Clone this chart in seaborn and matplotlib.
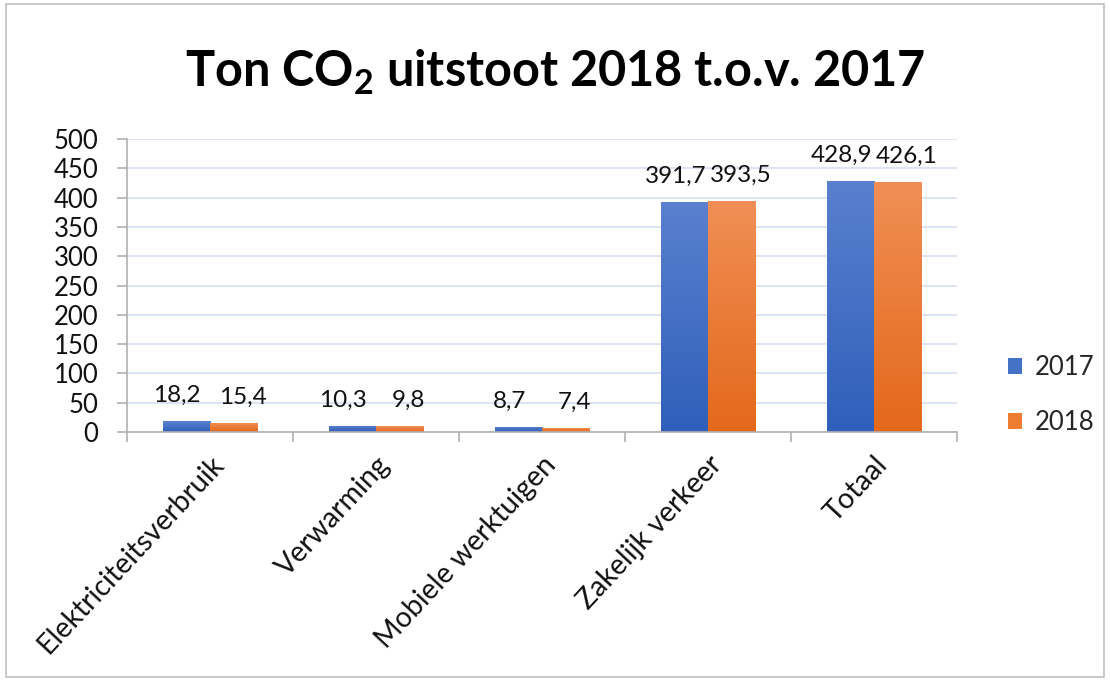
import numpy as np
import pandas as pd
import matplotlib
matplotlib.use("Agg")
import matplotlib.pyplot as plt
import seaborn as sns
from matplotlib.patches import Patch, Rectangle
from matplotlib.colors import LinearSegmentedColormap

categories = ["Elektriciteitsverbruik", "Verwarming", "Mobiele werktuigen", "Zakelijk verkeer", "Totaal"]
years = ["2017", "2018"]
values_2017 = [18.2, 10.3, 8.7, 391.7, 428.9]
values_2018 = [15.4, 9.8, 7.4, 393.5, 426.1]
y_ticks = [0, 50, 100, 150, 200, 250, 300, 350, 400, 450, 500]
title = r"Ton CO$_{\mathbf{2}}$ uitstoot 2018 t.o.v. 2017"

sns.set_theme(style="white")
plt.rcParams["font.family"] = ["Lato", "DejaVu Sans"]
plt.rcParams["mathtext.fontset"] = "custom"
plt.rcParams["mathtext.bf"] = "Lato:bold"
plt.rcParams["mathtext.rm"] = "Lato"

df = pd.DataFrame({
    "cat": categories * 2,
    "val": values_2017 + values_2018,
    "year": [years[0]] * len(categories) + [years[1]] * len(categories),
})

blue = "#4472c4"
orange = "#ed7d31"
blue_grad = LinearSegmentedColormap.from_list("b", ["#2f5fba", "#5a80cf"])
orange_grad = LinearSegmentedColormap.from_list("o", ["#e4681b", "#f08f55"])

fig = plt.figure(figsize=(11.1, 6.8), dpi=100)
ax = fig.add_axes([127/1110, 1-432/680, (957-127)/1110, (432-139)/680])

sns.barplot(data=df, x="cat", y="val", hue="year", palette=[blue, orange],
            width=0.57, gap=0, ax=ax, legend=False, zorder=3, linewidth=0)

ax.set_ylim(0, 500)
ax.set_xlim(-0.5, len(categories) - 0.5)
ax.set_yticks(y_ticks)
ax.set_yticklabels([str(t) for t in y_ticks], fontsize=18.5, color="#111111")
ax.set_xlabel("")
ax.set_ylabel("")

# gradients
grad = np.linspace(0, 1, 256).reshape(-1, 1)
for cont, cmap in zip(ax.containers, [blue_grad, orange_grad]):
    for p in cont.patches:
        x0, y0 = p.get_x(), p.get_y()
        w, h = p.get_width(), p.get_height()
        im = ax.imshow(grad, cmap=cmap, origin="lower", aspect="auto",
                       extent=[x0, x0 + w, y0, y0 + h], zorder=3.5)
        im.set_clip_path(p)
ax.set_ylim(0, 500)
ax.set_xlim(-0.5, len(categories) - 0.5)

# data labels (nudged outward horizontally, like the reference)
for cont, vals, dx in zip(ax.containers, [values_2017, values_2018], [-6.5, 6.5]):
    for p, v in zip(cont.patches, vals):
        ax.annotate(f"{v:.1f}".replace(".", ","),
                    xy=(p.get_x() + p.get_width() / 2, p.get_height()),
                    xytext=(dx, 11), textcoords="offset points",
                    ha="center", va="bottom", fontsize=17.5, color="#111111",
                    zorder=5)

# grid and axes
ax.yaxis.grid(True, color="#d5def0", linewidth=1.2, zorder=0)
ax.set_axisbelow(True)
for s in ["top", "right"]:
    ax.spines[s].set_visible(False)
for s in ["left", "bottom"]:
    ax.spines[s].set_color("#b0b0b0")
    ax.spines[s].set_linewidth(1.2)
    ax.spines[s].set_zorder(4)
ax.tick_params(axis="y", which="major", left=True, length=7, width=1.2,
               color="#b0b0b0", pad=13.5)

ax.set_xticks(range(len(categories)))
ax.set_xticklabels(categories, rotation=47, ha="right", rotation_mode="anchor",
                   fontsize=20.5, color="#111111")
ax.tick_params(axis="x", which="major", length=0, pad=14)
ax.set_xticks(np.arange(-0.5, len(categories), 1.0), minor=True)
ax.tick_params(axis="x", which="minor", bottom=True, length=7, width=1.2, color="#b0b0b0")

# legend
handles = [Patch(facecolor=blue, edgecolor="none"), Patch(facecolor=orange, edgecolor="none")]
fig.legend(handles, years, loc="center left", bbox_to_anchor=(0.887, 0.419),
           frameon=False, fontsize=18.5, handlelength=0.55, handleheight=0.55,
           handletextpad=0.5, labelspacing=1.15)

fig.text(0.5, 1 - 72/680, title, ha="center", va="center", fontsize=35,
         fontweight="bold", color="#000000")

fig.patches.append(Rectangle((0.005, 0.004), 0.99, 0.99, transform=fig.transFigure,
                             fill=False, edgecolor="#bfbfbf", linewidth=1.2))

fig.savefig("out.png", dpi=100)
